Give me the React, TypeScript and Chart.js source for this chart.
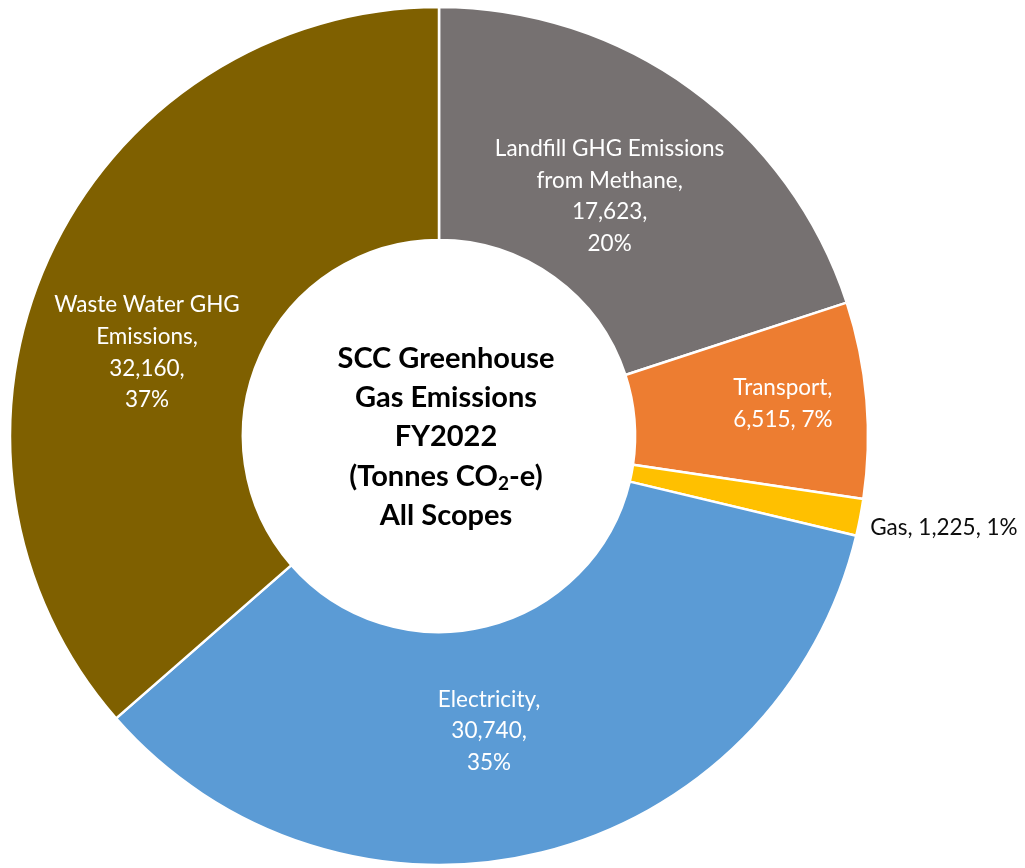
import React, { useEffect, useRef } from "react";
import { Chart, registerables } from "chart.js";

Chart.register(...registerables);

const categories = [
  "Landfill GHG Emissions from Methane",
  "Transport",
  "Gas",
  "Electricity",
  "Waste Water GHG Emissions",
];
const values = [17623, 6515, 1225, 30740, 32160];
const colors = ["#767171", "#ED7D31", "#FFC000", "#5B9BD5", "#7F6000"];
const labelLines = [
  ["Landfill GHG Emissions", "from Methane,", "17,623,", "20%"],
  ["Transport,", "6,515, 7%"],
  ["Gas, 1,225, 1%"],
  ["Electricity,", "30,740,", "35%"],
  ["Waste Water GHG", "Emissions,", "32,160,", "37%"],
];
const centerTitle = ["SCC Greenhouse", "Gas Emissions", "FY2022", "(Tonnes CO|2|-e)", "All Scopes"];

const FONT = "Lato, 'Open Sans', sans-serif";
// label nudges relative to arc mid-point (pixels)
const labelNudge = [
  [-6, 4],
  [44, -7],
  [0, 0],
  [-22, 3],
  [-18, 41],
];

const labelPlugin = {
  id: "sliceLabels",
  afterDatasetsDraw(chart: any) {
    const ctx = chart.ctx as CanvasRenderingContext2D;
    const meta = chart.getDatasetMeta(0);
    ctx.save();
    ctx.textBaseline = "middle";
    meta.data.forEach((arc: any, i: number) => {
      const p = arc.getProps(["x", "y", "startAngle", "endAngle", "innerRadius", "outerRadius"], true);
      const mid = (p.startAngle + p.endAngle) / 2;
      const lines = labelLines[i];
      const lh = 31.7;
      ctx.font = `22.5px ${FONT}`;
      if (i === 2) {
        const ox = p.x + Math.cos(mid) * p.outerRadius;
        const oy = p.y + Math.sin(mid) * p.outerRadius;
        ctx.fillStyle = "#0d0d0d";
        ctx.textAlign = "left";
        ctx.fillText(lines[0], ox + 10, oy + 10);
        return;
      }
      const r = p.innerRadius + 0.45 * (p.outerRadius - p.innerRadius);
      const cx = p.x + Math.cos(mid) * r + labelNudge[i][0];
      const cy = p.y + Math.sin(mid) * r + labelNudge[i][1];
      ctx.fillStyle = "#ffffff";
      ctx.textAlign = "center";
      const top = cy - ((lines.length - 1) * lh) / 2;
      lines.forEach((t, k) => ctx.fillText(t, cx, top + k * lh));
    });

    // center title
    const a0 = meta.data[0].getProps(["x", "y"], true);
    const cx = a0.x + 7;
    const lh = 39.3;
    const top = a0.y + 1 - ((centerTitle.length - 1) * lh) / 2;
    ctx.fillStyle = "#000000";
    centerTitle.forEach((t, k) => {
      const y = top + k * lh;
      const parts = t.split("|");
      const big = `bold 29px ${FONT}`;
      const small = `bold 19px ${FONT}`;
      let w = 0;
      parts.forEach((s, j) => {
        ctx.font = j === 1 ? small : big;
        w += ctx.measureText(s).width;
      });
      let x = cx - w / 2;
      ctx.textAlign = "left";
      parts.forEach((s, j) => {
        ctx.font = j === 1 ? small : big;
        ctx.fillText(s, x, j === 1 ? y + 8 : y);
        x += ctx.measureText(s).width;
      });
    });
    ctx.restore();
  },
};

export default function App() {
  const ref = useRef<HTMLCanvasElement | null>(null);
  useEffect(() => {
    if (!ref.current) return;
    const chart = new Chart(ref.current, {
      type: "doughnut",
      data: {
        labels: categories,
        datasets: [
          {
            data: values,
            backgroundColor: colors,
            borderColor: "#ffffff",
            borderWidth: 2.5,
          },
        ],
      },
      options: {
        responsive: false,
        maintainAspectRatio: false,
        animation: false,
        cutout: 196,
        radius: 429,
        layout: { padding: { left: 9, right: 156, top: 6, bottom: 2 } },
        plugins: {
          legend: { display: false },
          tooltip: { enabled: false },
          title: { display: false },
        },
      },
      plugins: [labelPlugin],
    });
    return () => chart.destroy();
  }, []);
  return (
    <div style={{ position: "fixed", left: 0, top: 0, width: 1025, height: 868, background: "#ffffff" }}>
      <canvas ref={ref} width={1025} height={868} style={{ width: 1025, height: 868 }} />
    </div>
  );
}
